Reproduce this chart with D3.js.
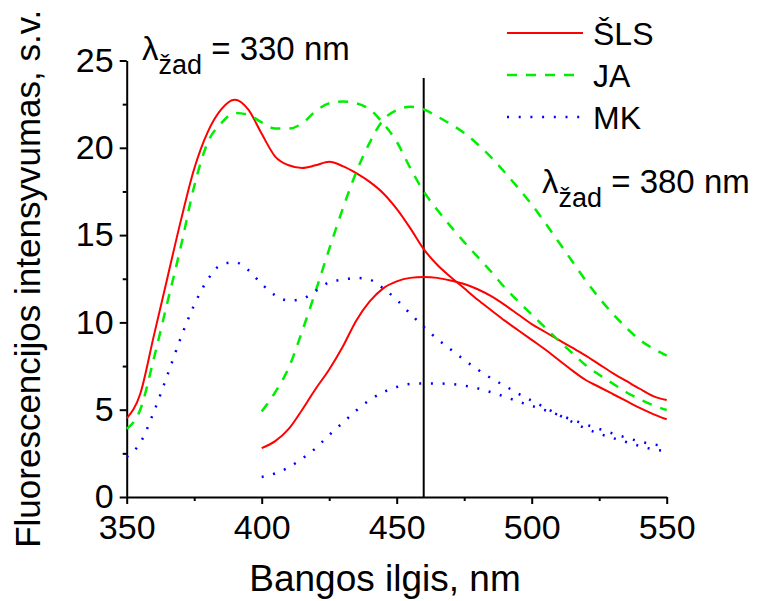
<!DOCTYPE html>
<html>
<head>
<meta charset="utf-8">
<script src="https://cdn.jsdelivr.net/npm/d3@7"></script>
<style>
  body { margin: 0; background: #fff; }
  text { font-family: Arial, "Liberation Sans", sans-serif; fill: #000; }
</style>
</head>
<body>
<svg id="chart" width="758" height="601"></svg>
<script>
// wavelengths, nm
const wl330 = [350,355,360,365,370,375,380,385,390,395,400,405,410,415,420,425,430,435,440,445,450,
               455,460,465,470,475,480,485,490,495,500,505,510,515,520,525,530,535,540,545,550];
const wl380 = [400,405,410,415,420,425,430,435,440,445,450,455,460,465,470,475,480,485,490,495,500,
               505,510,515,520,525,530,535,540,545,550];

// excitation 330 nm
const sls330 = [4.5,5.9,9.2,12.5,15.8,18.8,20.9,22.2,22.75,22.2,20.8,19.5,19.0,18.85,19.0,19.2,18.95,18.55,18.05,17.4,16.5,
                15.4,14.2,13.3,12.6,11.95,11.3,10.7,10.1,9.55,9.0,8.45,7.85,7.25,6.7,6.3,5.9,5.5,5.1,4.75,4.45];
const ja330  = [3.9,5.0,7.9,11.1,14.3,17.8,20.3,21.4,22.0,21.9,21.45,21.1,21.1,21.4,22.1,22.55,22.65,22.55,22.2,21.4,20.35,
                18.85,17.5,16.45,15.5,14.6,13.75,12.9,12.0,11.2,10.45,9.7,8.95,8.25,7.55,7.0,6.5,6.0,5.6,5.25,4.98];
const mk330  = [2.3,3.1,4.85,6.95,9.1,11.0,12.45,13.3,13.45,13.0,12.2,11.55,11.25,11.35,11.8,12.3,12.45,12.55,12.45,11.95,11.3,
                10.5,9.75,9.05,8.45,7.85,7.3,6.8,6.37,5.92,5.52,5.12,4.7,4.3,3.92,3.63,3.38,3.15,2.92,2.73,2.63];

// excitation 380 nm
const sls380 = [2.8,3.2,3.9,5.0,6.2,7.3,8.6,10.1,11.2,11.95,12.35,12.55,12.6,12.55,12.4,12.2,11.9,11.5,11.0,10.45,9.9,
                9.45,9.0,8.55,8.1,7.6,7.1,6.65,6.2,5.78,5.55];
const ja380  = [4.9,6.0,7.4,9.5,11.8,14.2,16.5,18.6,20.3,21.6,22.15,22.35,22.2,21.8,21.35,20.85,20.2,19.45,18.6,17.7,16.75,
                15.7,14.6,13.5,12.4,11.4,10.5,9.7,9.0,8.5,8.1];
const mk380  = [1.15,1.35,1.7,2.2,2.8,3.55,4.25,4.95,5.55,6.0,6.3,6.47,6.5,6.5,6.47,6.38,6.22,6.0,5.75,5.47,5.22,
                4.97,4.7,4.43,4.15,3.9,3.64,3.4,3.18,3.02,2.88];

const xTicks = [350,400,450,500,550];
const xMinor = [375,425,475,525];
const yTicks = [0,5,10,15,20,25];
const yMinor = [2.5,7.5,12.5,17.5,22.5];
const markerWl = 460;

const legendNames = ["ŠLS","JA","MK"];
const colors = ["#ff0000","#00ee00","#0000ff"];
const dashes = [null,"10,9","2,9.7"];

const svg = d3.select("#chart");
const x = d3.scaleLinear().domain([350,550]).range([126.7,666.7]);
const y = d3.scaleLinear().domain([0,25]).range([497,60.5]);

// axes
const gx = svg.append("g").attr("transform",`translate(0,${y(0)})`);
gx.call(d3.axisBottom(x).tickValues(xTicks).tickSize(7).tickSizeOuter(0).tickPadding(11).tickFormat(d3.format("d")));
gx.append("g").call(d3.axisBottom(x).tickValues(xMinor).tickSize(4).tickFormat(""))
  .select(".domain").remove();

const gy = svg.append("g").attr("transform",`translate(${x(350)},0)`);
gy.call(d3.axisLeft(y).tickValues(yTicks).tickSize(7).tickSizeOuter(0).tickPadding(6).tickFormat(d3.format("d")));
gy.append("g").call(d3.axisLeft(y).tickValues(yMinor).tickSize(4).tickFormat(""))
  .select(".domain").remove();

svg.selectAll(".domain, .tick line").attr("stroke","#000").attr("stroke-width",2);
svg.selectAll(".tick text").attr("font-size",34).attr("font-family","Arial, 'Liberation Sans', sans-serif").attr("fill","#000");

// vertical marker
svg.append("line")
   .attr("x1",x(markerWl)).attr("x2",x(markerWl))
   .attr("y1",y(24)).attr("y2",y(0))
   .attr("stroke","#000").attr("stroke-width",2);

// curves
const line = d3.line().curve(d3.curveMonotoneX);
const series = [
  {wl: wl330, v: sls330, k: 0}, {wl: wl380, v: sls380, k: 0},
  {wl: wl330, v: ja330, k: 1},  {wl: wl380, v: ja380, k: 1},
  {wl: wl330, v: mk330, k: 2},  {wl: wl380, v: mk380, k: 2}
];
series.forEach(s => {
  svg.append("path")
     .attr("d", line(s.wl.map((w,i) => [x(w), y(s.v[i])])))
     .attr("fill","none")
     .attr("stroke",colors[s.k])
     .attr("stroke-width", s.k == 0 ? 2 : 2.5)
     .attr("stroke-dasharray",dashes[s.k]);
});

// legend
const leg = svg.append("g");
legendNames.forEach((n,i) => {
  const ly = 33 + i*42;
  leg.append("line").attr("x1",507).attr("x2",583).attr("y1",ly).attr("y2",ly)
     .attr("stroke",colors[i]).attr("stroke-width", i == 0 ? 2 : 2.5).attr("stroke-dasharray",dashes[i]);
  leg.append("text").attr("x",593).attr("y",ly+12).attr("font-size",32).text(n);
});

// excitation labels
function excLabel(px, py, nm) {
  const t = svg.append("text").attr("x",px).attr("y",py).attr("font-size",33);
  t.append("tspan").text("λ");
  t.append("tspan").attr("dy",14).attr("font-size",27).text("žad");
  t.append("tspan").attr("dy",-14).text(` = ${nm} nm`);
}
excLabel(142, 60, 330);
excLabel(542, 193, 380);

// axis titles
svg.append("text")
   .attr("x",385).attr("y",591)
   .attr("text-anchor","middle").attr("font-size",37)
   .text("Bangos ilgis, nm");
svg.append("text")
   .attr("transform",`translate(40,${(y(0)+y(25))/2}) rotate(-90)`)
   .attr("text-anchor","middle").attr("font-size",35)
   .text("Fluorescencijos intensyvumas, s.v.");
</script>
</body>
</html>
